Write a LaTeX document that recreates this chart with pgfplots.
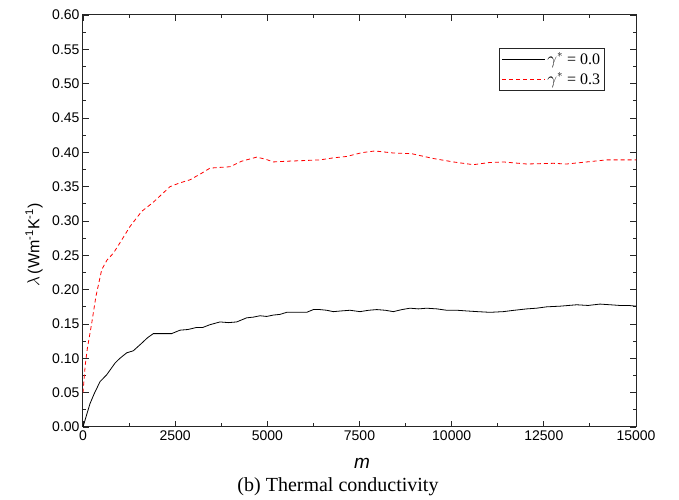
\documentclass[border=0pt]{standalone}
\usepackage{fontspec}
\setmainfont{Liberation Sans}
\newfontfamily\timesfont{Liberation Serif}
\usepackage{pgfplots}
\pgfplotsset{compat=1.18}
\begin{document}
\begin{tikzpicture}
\begin{axis}[
  scale only axis,
  width=553pt, height=412pt,
  xmin=0, xmax=15000, ymin=0, ymax=0.6,
  xtick={0,2500,5000,7500,10000,12500,15000},
  ytick={0,0.05,0.1,0.15,0.2,0.25,0.3,0.35,0.4,0.45,0.5,0.55,0.6},
  minor x tick num=1, minor y tick num=1,
  tick pos=both, tick align=inside,
  major tick length=6pt, minor tick length=3.5pt,
  axis line style={line width=1pt, black!85},
  every tick/.style={line width=0.9pt, black!85},
  /pgf/number format/assume math mode=true,
  scaled x ticks=false, scaled y ticks=false,
  x tick label style={/pgf/number format/.cd, fixed, 1000 sep={}, /tikz/.cd, font=\fontsize{14}{16}\selectfont},
  y tick label style={/pgf/number format/.cd, fixed, fixed zerofill, precision=2, /tikz/.cd, font=\fontsize{14}{16}\selectfont},
  legend style={at={(rel axis cs:0.944,0.92)}, anchor=north east, draw=black!85, text=black, line width=0.8pt,
    font=\timesfont\fontsize{16}{19}\selectfont, row sep=3pt, inner sep=2.5pt},
  legend cell align=left,
  legend image code/.code={\draw[#1] (0cm,0cm) -- (1.5cm,0cm);},
]
\coordinate (O) at (rel axis cs:0,0);
\addplot[draw=black, line width=0.8pt] coordinates {
(0,0.000) (100,0.018) (190,0.034) (300,0.048) (461,0.066) (642,0.076) (868,0.093) (1000,0.100)
(1185,0.108) (1365,0.111) (1592,0.122) (1750,0.130) (1908,0.136) (2150,0.136) (2405,0.136)
(2631,0.141) (2850,0.142) (3083,0.145) (3250,0.145) (3445,0.149) (3716,0.153) (3950,0.152)
(4169,0.153) (4440,0.159) (4620,0.160) (4801,0.162) (4982,0.161) (5163,0.163) (5344,0.164)
(5525,0.167) (5800,0.167) (6067,0.167) (6248,0.171) (6428,0.171) (6609,0.170) (6790,0.168)
(7000,0.169) (7242,0.170) (7514,0.168) (7750,0.170) (7966,0.171) (8200,0.170) (8418,0.168)
(8650,0.171) (8870,0.173) (9100,0.172) (9322,0.173) (9600,0.172) (9865,0.170) (10150,0.170)
(10407,0.169) (10700,0.168) (11040,0.167) (11402,0.168) (11700,0.170) (12035,0.172) (12300,0.173)
(12578,0.175) (12950,0.176) (13391,0.178) (13700,0.177) (14024,0.179) (14300,0.178) (14566,0.177)
(14800,0.177) (15000,0.176)
};
\addlegendentry{$\gamma^{*}$ = 0.0}
\addplot[draw=red, line width=0.8pt, dash pattern=on 4pt off 3pt] coordinates {
(0,0.050) (60,0.090) (120,0.115) (236,0.151) (350,0.190) (507,0.229) (650,0.243) (822,0.253)
(1000,0.268) (1275,0.292) (1592,0.314) (1900,0.327) (2100,0.337) (2360,0.350) (2600,0.355)
(2902,0.360) (3200,0.369) (3445,0.377) (3700,0.378) (3987,0.379) (4300,0.387) (4711,0.393)
(4950,0.390) (5163,0.386) (5500,0.387) (6000,0.388) (6428,0.389) (6800,0.392) (7152,0.394)
(7560,0.3995) (7920,0.402) (8418,0.399) (8915,0.398) (9503,0.391) (10045,0.386) (10588,0.382)
(11000,0.385) (11402,0.386) (12035,0.383) (12758,0.384) (13120,0.383) (13662,0.386) (14205,0.389)
(14973,0.389) (15000,0.389)
};
\addlegendentry{$\gamma^{*}$ = 0.3}
\end{axis}
\node[rotate=90, font=\fontsize{16}{18}\selectfont] at ([shift={(-49pt,182pt)}]O) {$\lambda$\,(Wm\textsuperscript{-1}K\textsuperscript{-1})};
\node[font=\fontsize{19}{21}\selectfont] at ([shift={(279pt,-36pt)}]O) {\textit{m}};
\node[font=\timesfont\fontsize{20}{22}\selectfont] at ([shift={(255pt,-60pt)}]O) {(b) Thermal conductivity};
\path ([shift={(-83pt,-71pt)}]O) rectangle ([shift={(596pt,427pt)}]O);
\end{tikzpicture}
\end{document}
